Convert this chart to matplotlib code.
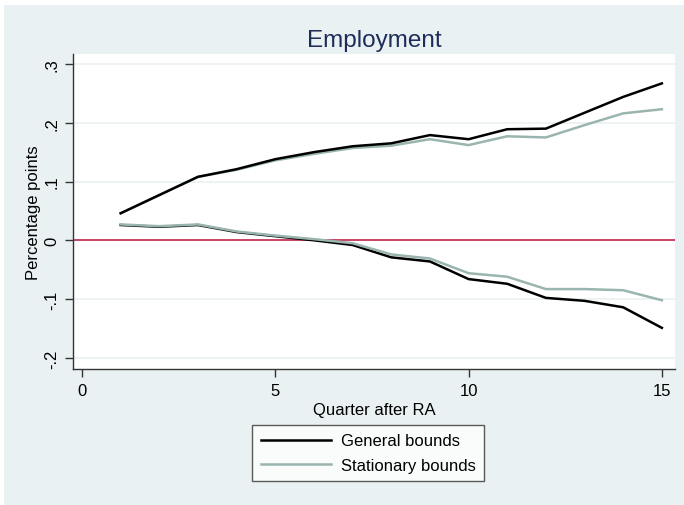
import matplotlib.pyplot as plt
from matplotlib.patches import Rectangle

plt.rcParams['font.family'] = ['Liberation Sans', 'DejaVu Sans']

# Quarters after RA
quarters = list(range(1, 16))

# Upper and lower bounds on the employment effect (percentage points)
general_upper = [0.046, 0.077, 0.108, 0.121, 0.138, 0.150, 0.160, 0.165,
                 0.179, 0.172, 0.189, 0.190, 0.217, 0.244, 0.267]
general_lower = [0.026, 0.023, 0.026, 0.014, 0.007, 0.000, -0.008, -0.029,
                 -0.036, -0.066, -0.074, -0.098, -0.103, -0.114, -0.149]
stationary_upper = [0.046, 0.077, 0.108, 0.120, 0.136, 0.147, 0.157, 0.161,
                    0.172, 0.162, 0.177, 0.175, 0.196, 0.216, 0.223]
stationary_lower = [0.027, 0.024, 0.027, 0.015, 0.008, 0.002, -0.005, -0.024,
                    -0.031, -0.056, -0.062, -0.083, -0.083, -0.085, -0.102]

y_ticks = [-0.2, -0.1, 0, 0.1, 0.2, 0.3]
y_tick_labels = ['-.2', '-.1', '0', '.1', '.2', '.3']
x_ticks = [0, 5, 10, 15]

bg = '#EAF1F3'
black = '#000000'
teal_gray = '#9AB5AF'

fig = plt.figure(figsize=(6.84, 5.06), dpi=100)
fig.patch.set_facecolor('white')
fig.patches.append(Rectangle((4 / 684, 0), 1, 500 / 506, transform=fig.transFigure,
                             facecolor=bg, edgecolor='none', zorder=-1))

ax = fig.add_axes([73 / 684, 1 - 370 / 506, (675 - 73) / 684, (370 - 55) / 506])
ax.set_facecolor('white')

for y in y_ticks:
    ax.axhline(y, color=bg, lw=1.2, zorder=0)
ax.axhline(0, color='#C0163F', lw=1.1, zorder=1)

ax.plot(quarters, general_upper, color=black, lw=1.8, zorder=3, label='General bounds')
ax.plot(quarters, general_lower, color=black, lw=1.8, zorder=2)
ax.plot(quarters, stationary_upper, color=teal_gray, lw=1.8, zorder=2, label='Stationary bounds')
ax.plot(quarters, stationary_lower, color=teal_gray, lw=1.8, zorder=3)

ax.set_xlim(-0.233, 15.34)
ax.set_ylim(-0.219, 0.317)
ax.set_xticks(x_ticks)
ax.set_yticks(y_ticks)
ax.set_yticklabels(y_tick_labels, rotation=90, va='center')
ax.tick_params(axis='both', labelsize=12, length=6, width=1, color='#333333', pad=4)

for side in ['top', 'right']:
    ax.spines[side].set_visible(False)
for side in ['left', 'bottom']:
    ax.spines[side].set_color('#333333')
    ax.spines[side].set_linewidth(1)

ax.set_xlabel('Quarter after RA', fontsize=12, labelpad=3)
ax.set_ylabel('Percentage points', fontsize=12, labelpad=2)
ax.set_title('Employment', fontsize=17.5, color='#1E2C59', pad=6)

leg = fig.legend(loc='center', bbox_to_anchor=(368 / 684, 1 - 454 / 506), ncol=1,
                 fontsize=12, frameon=True, fancybox=False, edgecolor='#333333',
                 handlelength=4.2, handletextpad=0.6, borderpad=0.5, labelspacing=0.55)
leg.get_frame().set_linewidth(1)
leg.get_frame().set_facecolor('white')

fig.savefig('out.png', dpi=100, facecolor=fig.get_facecolor())
